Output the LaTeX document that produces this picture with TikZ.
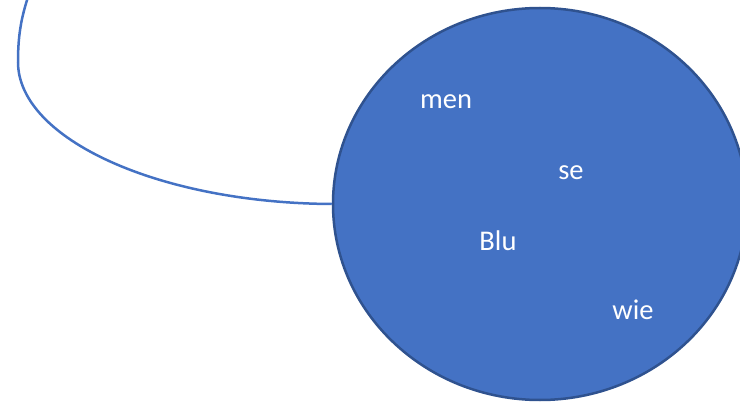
\documentclass[tikz,border=0pt]{standalone}
\usepackage{fontspec}
\setmainfont{Carlito}
\usetikzlibrary{shapes.geometric}
\definecolor{blobfill}{HTML}{4472C4}
\definecolor{blobline}{HTML}{2F528F}
\begin{document}
\begin{tikzpicture}[x=1pt,y=-1pt,
  word/.style={text=white,font=\fontsize{28.5}{30}\selectfont,anchor=base,inner sep=0}]
\useasboundingbox (0,0) rectangle (740,404);
\node[ellipse,draw=blobline,line width=2.5pt,fill=blobfill,minimum width=414pt,minimum height=392pt,inner sep=0] (blob) at (540,204) {};
\coordinate (top) at (31,-12);
\draw[blobfill,line width=2.5pt] (blob.west) .. controls (159,203) and (18,139) .. (18,62) .. controls (18,32) and (22,14) .. (top);
\node[word] (men) at (446,109) {men};
\node[word] (se) at (571,179) {se};
\node[word] (blu) at (498,250) {Blu};
\node[word] (wie) at (633,319) {wie};
\end{tikzpicture}
\end{document}
